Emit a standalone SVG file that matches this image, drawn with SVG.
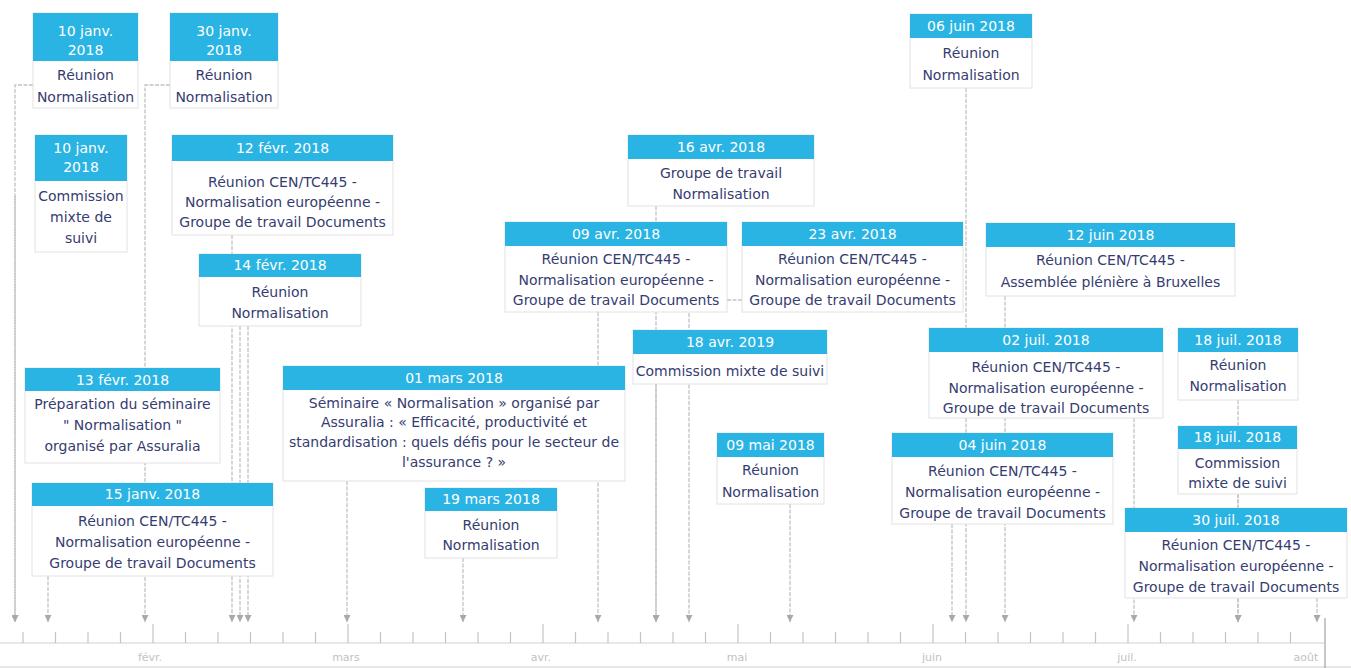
<svg xmlns="http://www.w3.org/2000/svg" width="1351" height="668" viewBox="0 0 1351 668">
  <defs>
    <marker id="arrow" viewBox="0 0 8 8" refX="8" refY="4" markerWidth="7" markerHeight="7" markerUnits="userSpaceOnUse" orient="auto">
      <path d="M0,0 L8,4 L0,8 z" fill="#a9a9a9"/>
    </marker>
    <style>
      .hd { fill: #29b4e4; }
      .bd { fill: #ffffff; stroke: #e2e2e2; stroke-width: 1; }
      .ht { fill: #ffffff; font-family: "DejaVu Sans", "Liberation Sans", sans-serif; font-size: 14px; text-anchor: middle; }
      .bt { fill: #363c70; font-family: "DejaVu Sans", "Liberation Sans", sans-serif; font-size: 14px; text-anchor: middle; }
      .cn { fill: none; stroke: #c2c2c2; stroke-width: 1.3; stroke-dasharray: 4 1.5; marker-end: url(#arrow); }
      .ax { stroke: #cfcfcf; stroke-width: 1.2; }
      .tk { stroke: #c4c4c4; stroke-width: 1.2; }
      .mo { fill: #c2c2c2; font-family: "DejaVu Sans", "Liberation Sans", sans-serif; font-size: 11px; text-anchor: middle; }
    </style>
  </defs>

  <rect width="1351" height="668" fill="#ffffff"/>

  <!-- time axis -->
  <g id="axis">
    <line class="ax" x1="0" y1="643" x2="1325" y2="643"/>
    <line class="ax" x1="0" y1="667" x2="1351" y2="667"/>
    <line x1="1325" y1="618" x2="1325" y2="668" stroke="#b5b5b5" stroke-width="1.5"/>
    <g class="tk">
      <line x1="23" y1="632" x2="23" y2="643"/>
      <line x1="55.5" y1="632" x2="55.5" y2="643"/>
      <line x1="88" y1="632" x2="88" y2="643"/>
      <line x1="120.5" y1="632" x2="120.5" y2="643"/>
      <line x1="153" y1="624" x2="153" y2="643"/>
      <line x1="185.5" y1="632" x2="185.5" y2="643"/>
      <line x1="218" y1="632" x2="218" y2="643"/>
      <line x1="250.5" y1="632" x2="250.5" y2="643"/>
      <line x1="283" y1="632" x2="283" y2="643"/>
      <line x1="315.5" y1="632" x2="315.5" y2="643"/>
      <line x1="348" y1="624" x2="348" y2="643"/>
      <line x1="380.5" y1="632" x2="380.5" y2="643"/>
      <line x1="413" y1="632" x2="413" y2="643"/>
      <line x1="445.5" y1="632" x2="445.5" y2="643"/>
      <line x1="478" y1="632" x2="478" y2="643"/>
      <line x1="510.5" y1="632" x2="510.5" y2="643"/>
      <line x1="543" y1="624" x2="543" y2="643"/>
      <line x1="575.5" y1="632" x2="575.5" y2="643"/>
      <line x1="608" y1="632" x2="608" y2="643"/>
      <line x1="640.5" y1="632" x2="640.5" y2="643"/>
      <line x1="673" y1="632" x2="673" y2="643"/>
      <line x1="705.5" y1="632" x2="705.5" y2="643"/>
      <line x1="738" y1="624" x2="738" y2="643"/>
      <line x1="770.5" y1="632" x2="770.5" y2="643"/>
      <line x1="803" y1="632" x2="803" y2="643"/>
      <line x1="835.5" y1="632" x2="835.5" y2="643"/>
      <line x1="868" y1="632" x2="868" y2="643"/>
      <line x1="900.5" y1="632" x2="900.5" y2="643"/>
      <line x1="933" y1="624" x2="933" y2="643"/>
      <line x1="965.5" y1="632" x2="965.5" y2="643"/>
      <line x1="998" y1="632" x2="998" y2="643"/>
      <line x1="1030.5" y1="632" x2="1030.5" y2="643"/>
      <line x1="1063" y1="632" x2="1063" y2="643"/>
      <line x1="1095.5" y1="632" x2="1095.5" y2="643"/>
      <line x1="1128" y1="624" x2="1128" y2="643"/>
      <line x1="1160.5" y1="632" x2="1160.5" y2="643"/>
      <line x1="1193" y1="632" x2="1193" y2="643"/>
      <line x1="1225.5" y1="632" x2="1225.5" y2="643"/>
      <line x1="1258" y1="632" x2="1258" y2="643"/>
      <line x1="1290.5" y1="632" x2="1290.5" y2="643"/>
    </g>
    <text class="mo" x="150" y="661">févr.</text>
    <text class="mo" x="346" y="661">mars</text>
    <text class="mo" x="541" y="661">avr.</text>
    <text class="mo" x="737" y="661">mai</text>
    <text class="mo" x="932" y="661">juin</text>
    <text class="mo" x="1127" y="661">juil.</text>
    <text class="mo" x="1306" y="661">août</text>
  </g>

  <!-- connectors from each event to its date on the axis -->
  <g id="connectors">
    <path class="cn" d="M33,85 H15 V622"/>
    <path class="cn" d="M15,196 V622"/>
    <path class="cn" d="M48,576 V622"/>
    <path class="cn" d="M170,85 H145 V622"/>
    <path class="cn" d="M232,235 V622"/>
    <path class="cn" d="M240,326 V622"/>
    <path class="cn" d="M248,326 V622"/>
    <path class="cn" d="M347,481 V622"/>
    <path class="cn" d="M463,558 V622"/>
    <path class="cn" d="M598,312 V622"/>
    <path class="cn" d="M656,206 V622"/>
    <path class="cn" d="M656,384 V622"/>
    <path class="cn" d="M742,300 H689 V622"/>
    <path class="cn" d="M790,504 V622"/>
    <path class="cn" d="M952,524 V622"/>
    <path class="cn" d="M966,88 V622"/>
    <path class="cn" d="M1005,296 V622"/>
    <path class="cn" d="M1134,418 V622"/>
    <path class="cn" d="M1238,400 V622"/>
    <path class="cn" d="M1238,494 V622"/>
    <path class="cn" d="M1317,598 V622"/>
  </g>

  <!-- events -->
  <g id="ev-2018-01-10-reunion">
    <rect class="bd" x="33" y="13" width="105" height="95"/>
    <rect class="hd" x="33" y="13" width="105" height="48"/>
    <text class="ht" x="85.5" y="36">10 janv.</text>
    <text class="ht" x="85.5" y="55">2018</text>
    <text class="bt" x="85.5" y="80">Réunion</text>
    <text class="bt" x="85.5" y="102">Normalisation</text>
  </g>

  <g id="ev-2018-01-30">
    <rect class="bd" x="170" y="13" width="108" height="95"/>
    <rect class="hd" x="170" y="13" width="108" height="48"/>
    <text class="ht" x="224" y="36">30 janv.</text>
    <text class="ht" x="224" y="55">2018</text>
    <text class="bt" x="224" y="80">Réunion</text>
    <text class="bt" x="224" y="102">Normalisation</text>
  </g>

  <g id="ev-2018-01-10-commission">
    <rect class="bd" x="35" y="135" width="92" height="117"/>
    <rect class="hd" x="35" y="135" width="92" height="46"/>
    <text class="ht" x="81" y="153">10 janv.</text>
    <text class="ht" x="81" y="172">2018</text>
    <text class="bt" x="81" y="201">Commission</text>
    <text class="bt" x="81" y="222">mixte de</text>
    <text class="bt" x="81" y="243">suivi</text>
  </g>

  <g id="ev-2018-02-12">
    <rect class="bd" x="172" y="135" width="221" height="100"/>
    <rect class="hd" x="172" y="135" width="221" height="26"/>
    <text class="ht" x="282.5" y="153">12 févr. 2018</text>
    <text class="bt" x="282.5" y="187">Réunion CEN/TC445 -</text>
    <text class="bt" x="282.5" y="207">Normalisation européenne -</text>
    <text class="bt" x="282.5" y="227">Groupe de travail Documents</text>
  </g>

  <g id="ev-2018-02-14">
    <rect class="bd" x="199" y="254" width="162" height="72"/>
    <rect class="hd" x="199" y="254" width="162" height="23"/>
    <text class="ht" x="280" y="270">14 févr. 2018</text>
    <text class="bt" x="280" y="297">Réunion</text>
    <text class="bt" x="280" y="318">Normalisation</text>
  </g>

  <g id="ev-2018-02-13">
    <rect class="bd" x="25" y="368" width="195" height="95"/>
    <rect class="hd" x="25" y="368" width="195" height="23"/>
    <text class="ht" x="122.5" y="385">13 févr. 2018</text>
    <text class="bt" x="122.5" y="409">Préparation du séminaire</text>
    <text class="bt" x="122.5" y="430">" Normalisation "</text>
    <text class="bt" x="122.5" y="451">organisé par Assuralia</text>
  </g>

  <g id="ev-2018-01-15">
    <rect class="bd" x="32" y="483" width="241" height="93"/>
    <rect class="hd" x="32" y="483" width="241" height="23"/>
    <text class="ht" x="152.5" y="499">15 janv. 2018</text>
    <text class="bt" x="152.5" y="526">Réunion CEN/TC445 -</text>
    <text class="bt" x="152.5" y="547">Normalisation européenne -</text>
    <text class="bt" x="152.5" y="568">Groupe de travail Documents</text>
  </g>

  <g id="ev-2018-03-01">
    <rect class="bd" x="283" y="366" width="342" height="115"/>
    <rect class="hd" x="283" y="366" width="342" height="24"/>
    <text class="ht" x="454" y="383">01 mars 2018</text>
    <text class="bt" x="454" y="408">Séminaire « Normalisation » organisé par</text>
    <text class="bt" x="454" y="427">Assuralia : « Efficacité, productivité et</text>
    <text class="bt" x="454" y="447">standardisation : quels défis pour le secteur de</text>
    <text class="bt" x="454" y="467">l'assurance ? »</text>
  </g>

  <g id="ev-2018-03-19">
    <rect class="bd" x="425" y="488" width="132" height="70"/>
    <rect class="hd" x="425" y="488" width="132" height="23"/>
    <text class="ht" x="491" y="504">19 mars 2018</text>
    <text class="bt" x="491" y="530">Réunion</text>
    <text class="bt" x="491" y="550">Normalisation</text>
  </g>

  <g id="ev-2018-04-16">
    <rect class="bd" x="628" y="135" width="186" height="71"/>
    <rect class="hd" x="628" y="135" width="186" height="24"/>
    <text class="ht" x="721" y="152">16 avr. 2018</text>
    <text class="bt" x="721" y="178">Groupe de travail</text>
    <text class="bt" x="721" y="199">Normalisation</text>
  </g>

  <g id="ev-2018-04-09">
    <rect class="bd" x="505" y="222" width="222" height="90"/>
    <rect class="hd" x="505" y="222" width="222" height="24"/>
    <text class="ht" x="616" y="239">09 avr. 2018</text>
    <text class="bt" x="616" y="264">Réunion CEN/TC445 -</text>
    <text class="bt" x="616" y="285">Normalisation européenne -</text>
    <text class="bt" x="616" y="305">Groupe de travail Documents</text>
  </g>

  <g id="ev-2018-04-23">
    <rect class="bd" x="742" y="222" width="221" height="90"/>
    <rect class="hd" x="742" y="222" width="221" height="24"/>
    <text class="ht" x="852.5" y="239">23 avr. 2018</text>
    <text class="bt" x="852.5" y="264">Réunion CEN/TC445 -</text>
    <text class="bt" x="852.5" y="285">Normalisation européenne -</text>
    <text class="bt" x="852.5" y="305">Groupe de travail Documents</text>
  </g>

  <g id="ev-2018-04-18">
    <rect class="bd" x="633" y="330" width="194" height="54"/>
    <rect class="hd" x="633" y="330" width="194" height="24"/>
    <text class="ht" x="730" y="347">18 avr. 2019</text>
    <text class="bt" x="730" y="376">Commission mixte de suivi</text>
  </g>

  <g id="ev-2018-05-09">
    <rect class="bd" x="717" y="433" width="107" height="71"/>
    <rect class="hd" x="717" y="433" width="107" height="24"/>
    <text class="ht" x="770.5" y="450">09 mai 2018</text>
    <text class="bt" x="770.5" y="475">Réunion</text>
    <text class="bt" x="770.5" y="497">Normalisation</text>
  </g>

  <g id="ev-2018-06-06">
    <rect class="bd" x="910" y="14" width="122" height="74"/>
    <rect class="hd" x="910" y="14" width="122" height="24"/>
    <text class="ht" x="971" y="31">06 juin 2018</text>
    <text class="bt" x="971" y="58">Réunion</text>
    <text class="bt" x="971" y="80">Normalisation</text>
  </g>

  <g id="ev-2018-06-12">
    <rect class="bd" x="986" y="223" width="249" height="73"/>
    <rect class="hd" x="986" y="223" width="249" height="24"/>
    <text class="ht" x="1110.5" y="240">12 juin 2018</text>
    <text class="bt" x="1110.5" y="265">Réunion CEN/TC445 -</text>
    <text class="bt" x="1110.5" y="287">Assemblée plénière à Bruxelles</text>
  </g>

  <g id="ev-2018-07-02">
    <rect class="bd" x="929" y="328" width="234" height="90"/>
    <rect class="hd" x="929" y="328" width="234" height="24"/>
    <text class="ht" x="1046" y="345">02 juil. 2018</text>
    <text class="bt" x="1046" y="372">Réunion CEN/TC445 -</text>
    <text class="bt" x="1046" y="393">Normalisation européenne -</text>
    <text class="bt" x="1046" y="413">Groupe de travail Documents</text>
  </g>

  <g id="ev-2018-06-04">
    <rect class="bd" x="892" y="433" width="221" height="91"/>
    <rect class="hd" x="892" y="433" width="221" height="24"/>
    <text class="ht" x="1002.5" y="450">04 juin 2018</text>
    <text class="bt" x="1002.5" y="476">Réunion CEN/TC445 -</text>
    <text class="bt" x="1002.5" y="497">Normalisation européenne -</text>
    <text class="bt" x="1002.5" y="518">Groupe de travail Documents</text>
  </g>

  <g id="ev-2018-07-18-reunion">
    <rect class="bd" x="1178" y="328" width="120" height="72"/>
    <rect class="hd" x="1178" y="328" width="120" height="24"/>
    <text class="ht" x="1238" y="345">18 juil. 2018</text>
    <text class="bt" x="1238" y="370">Réunion</text>
    <text class="bt" x="1238" y="391">Normalisation</text>
  </g>

  <g id="ev-2018-07-18-commission">
    <rect class="bd" x="1178" y="426" width="119" height="68"/>
    <rect class="hd" x="1178" y="426" width="119" height="23"/>
    <text class="ht" x="1237.5" y="442">18 juil. 2018</text>
    <text class="bt" x="1237.5" y="468">Commission</text>
    <text class="bt" x="1237.5" y="488">mixte de suivi</text>
  </g>

  <g id="ev-2018-07-30">
    <rect class="bd" x="1125" y="508" width="222" height="90"/>
    <rect class="hd" x="1125" y="508" width="222" height="24"/>
    <text class="ht" x="1236" y="525">30 juil. 2018</text>
    <text class="bt" x="1236" y="550">Réunion CEN/TC445 -</text>
    <text class="bt" x="1236" y="571">Normalisation européenne -</text>
    <text class="bt" x="1236" y="592">Groupe de travail Documents</text>
  </g>
</svg>
